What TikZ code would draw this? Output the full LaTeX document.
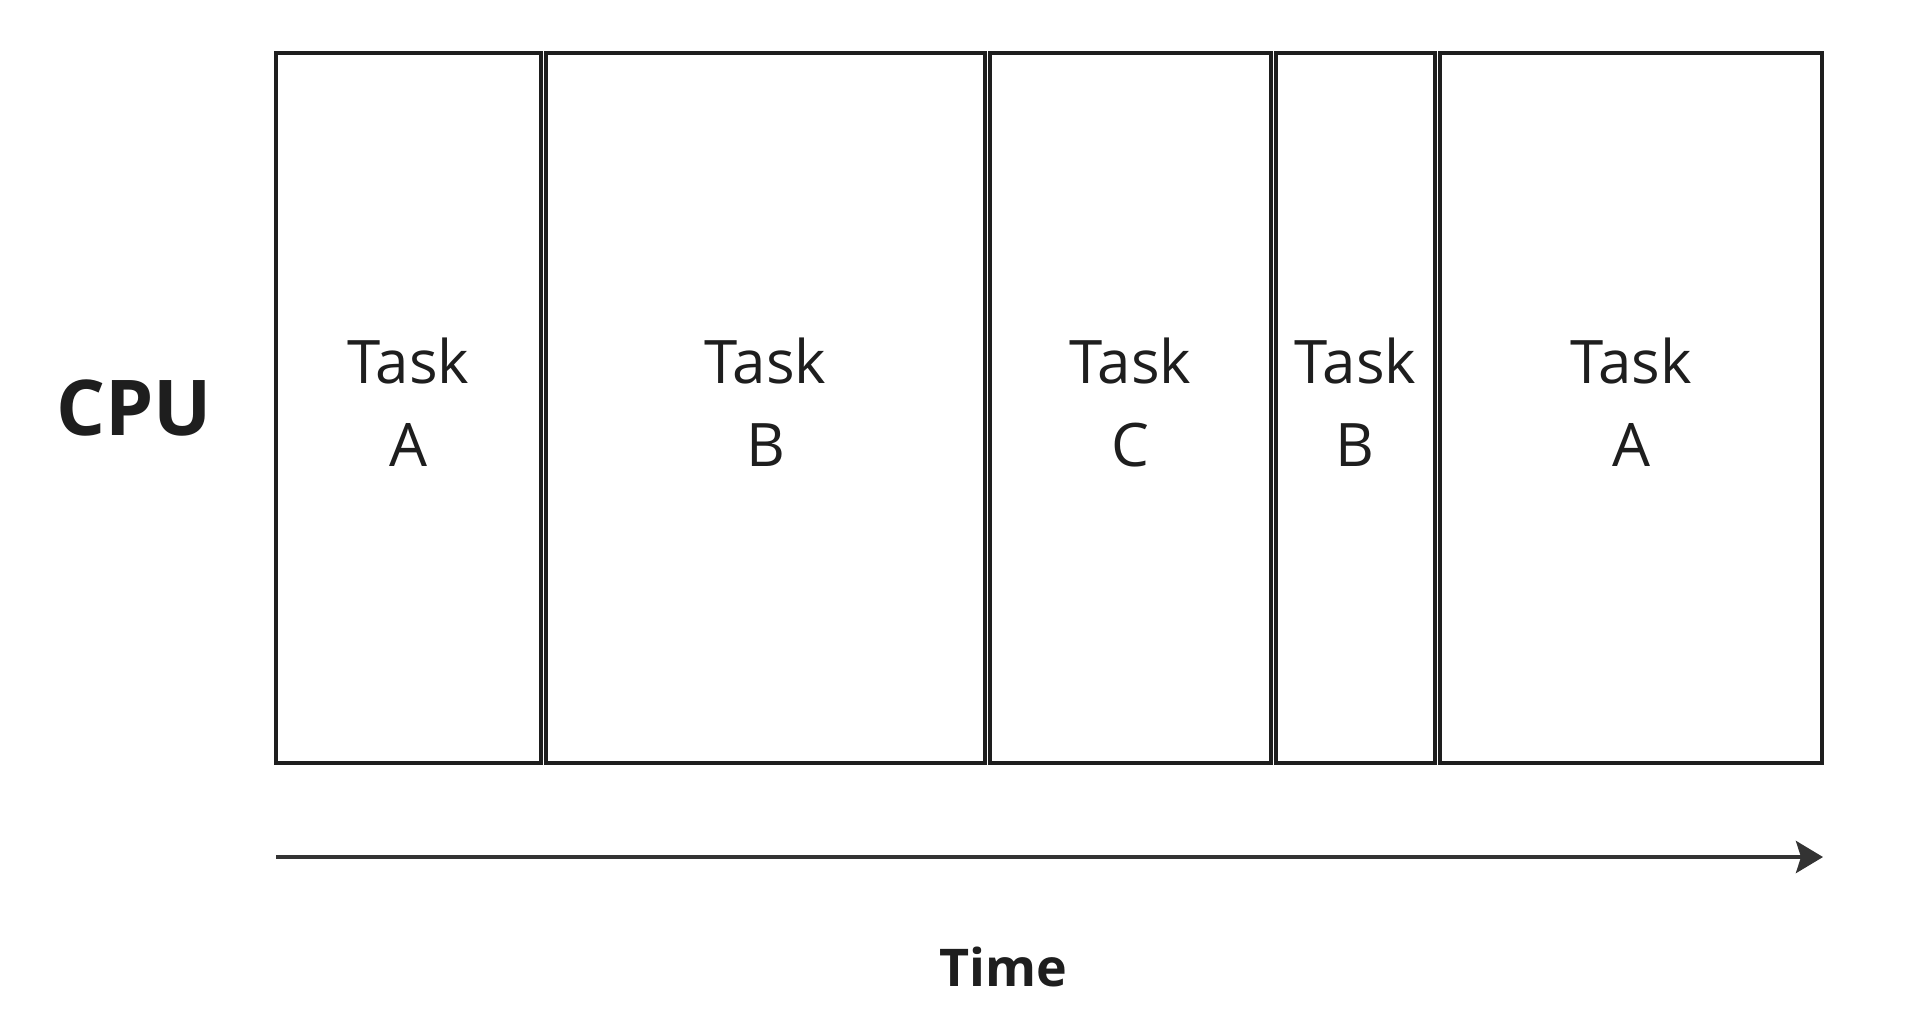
\documentclass[tikz,border=0pt]{standalone}
\usepackage{fontspec}
\setmainfont{Open Sans}
\usetikzlibrary{arrows.meta}

\definecolor{ink}{HTML}{1E1E1E}
\definecolor{axisgray}{HTML}{333333}

\tikzset{
  slice/.style={draw=ink, line width=4pt, minimum height=709.4pt, inner sep=0pt, outer sep=0pt},
  tasktxt/.style={text=ink, align=center, font=\fontsize{60}{83}\selectfont, inner sep=0pt},
  bigtxt/.style={text=ink, font=\bfseries\fontsize{#1}{#1}\selectfont, inner sep=0pt, anchor=base},
  timearrow/.style={draw=axisgray, line width=4.3pt, line join=round, arrows={-Stealth[length=27pt, width=32pt, inset=5pt]}}
}

\begin{document}
\begin{tikzpicture}[x=1pt, y=-1pt]
    \useasboundingbox[fill=white] (0,0) rectangle (1922,1026);
    % time slices
    \node[slice, minimum width=265pt] (sliceA) at (408.5,408) {};
    \node[slice, minimum width=439.4pt] (sliceB) at (765.5,408) {};
    \node[slice, minimum width=281.4pt] (sliceC) at (1130.5,408) {};
    \node[slice, minimum width=159pt] (sliceB2) at (1355.3,408) {};
    \node[slice, minimum width=382pt] (sliceA2) at (1631,408) {};
    \node[tasktxt] (taskA) at ([yshift=6pt]sliceA.center) {Task\\A};
    \node[tasktxt] (taskB) at ([yshift=6pt]sliceB.center) {Task\\B};
    \node[tasktxt] (taskC) at ([yshift=6pt]sliceC.center) {Task\\C};
    \node[tasktxt] (taskB2) at ([yshift=6pt]sliceB2.center) {Task\\B};
    \node[tasktxt] (taskA2) at ([yshift=6pt]sliceA2.center) {Task\\A};
    \node[bigtxt=77] (cpu) at (134,435) {CPU};
    % time axis
    \coordinate (t0) at (276,857);
    \coordinate (t1) at (1823,857);
    \draw[timearrow] (t0) -- (t1);
    \node[bigtxt=52] (time) at (1003,986) {Time};
  \end{tikzpicture}
\end{document}
